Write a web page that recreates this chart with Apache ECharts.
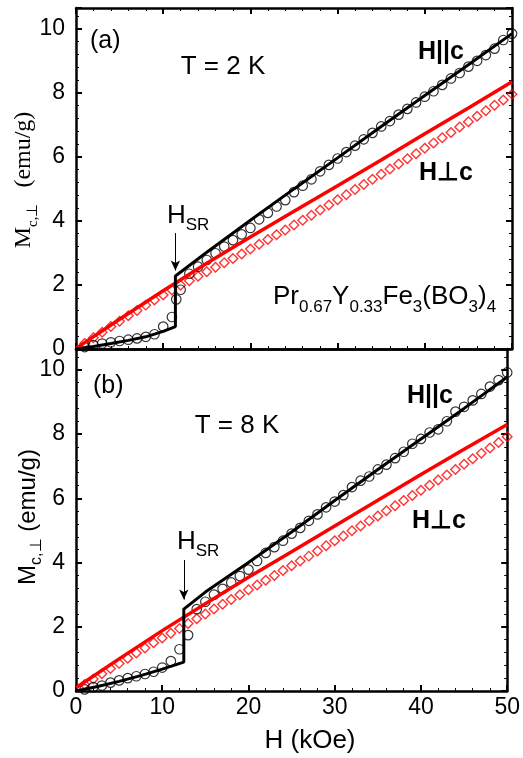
<!DOCTYPE html>
<html>
<head>
<meta charset="utf-8">
<script src="https://cdn.jsdelivr.net/npm/echarts@6/dist/echarts.min.js"></script>
<style>
  html, body { margin: 0; padding: 0; background: #fff; }
  #main { width: 523px; height: 758px; }
</style>
</head>
<body>
<div id="main"></div>
<script>
// ---- data (H in kOe, M in emu/g) ----
// panel (a), T = 2 K
var hParA = [1,2,3,4,5,6,7,8,9,10,11,11.5,12,13,14,15,16,17,18,19,20,21,22,23,24,25,26,27,28,29,30,31,32,33,34,35,36,37,38,39,40,41,42,43,44,45,46,47,48,49,50];
var mParA = [0.06,0.12,0.17,0.21,0.25,0.29,0.33,0.38,0.46,0.70,1.00,1.55,1.85,2.35,2.57,2.78,2.99,3.20,3.40,3.58,3.78,4.05,4.25,4.45,4.65,4.90,5.10,5.30,5.55,5.75,5.95,6.15,6.35,6.55,6.75,6.95,7.12,7.32,7.50,7.70,7.88,8.05,8.25,8.45,8.62,8.82,9.00,9.18,9.38,9.65,9.85];
var hPerpA = [1,2,3,4,5,6,7,8,9,10,11,12,13,14,15,16,17,18,19,20,21,22,23,24,25,26,27,28,29,30,31,32,33,34,35,36,37,38,39,40,41,42,43,44,45,46,47,48,49,50];
var mPerpA = [0.18,0.35,0.52,0.70,0.87,1.04,1.20,1.37,1.53,1.69,1.84,1.99,2.13,2.27,2.41,2.55,2.69,2.83,2.97,3.12,3.27,3.42,3.57,3.72,3.87,4.02,4.18,4.34,4.50,4.66,4.82,4.98,5.14,5.30,5.46,5.62,5.78,5.94,6.10,6.27,6.43,6.60,6.76,6.93,7.10,7.27,7.44,7.61,7.78,7.96];
var fitParHA = [0,2,4,6,8,10,11.4,11.4,15,20,25,30,35,40,45,50];
var fitParMA = [0,0.08,0.17,0.27,0.38,0.55,0.70,2.28,3.02,4.02,5.00,5.97,6.95,7.92,8.88,9.85];
var fitPerpHA = [0,5,10,15,20,25,30,35,40,45,50];
var fitPerpMA = [0.02,0.93,1.82,2.68,3.50,4.30,5.10,5.90,6.72,7.53,8.35];

// panel (b), T = 8 K
var hParB = [1,2,3,4,5,6,7,8,9,10,11,12,13,14,15,16,17,18,19,20,21,22,23,24,25,26,27,28,29,30,31,32,33,34,35,36,37,38,39,40,41,42,43,44,45,46,47,48,49,50];
var mParB = [0.05,0.12,0.17,0.26,0.33,0.40,0.46,0.53,0.60,0.73,0.93,1.30,1.74,2.55,2.78,3.00,3.18,3.38,3.58,3.78,4.05,4.30,4.48,4.68,4.90,5.08,5.30,5.50,5.72,5.90,6.10,6.35,6.55,6.68,6.90,7.05,7.25,7.45,7.70,7.85,8.05,8.15,8.40,8.70,8.85,9.05,9.25,9.48,9.68,9.92];
var hPerpB = [1,2,3,4,5,6,7,8,9,10,11,12,13,14,15,16,17,18,19,20,21,22,23,24,25,26,27,28,29,30,31,32,33,34,35,36,37,38,39,40,41,42,43,44,45,46,47,48,49,50];
var mPerpB = [0.20,0.37,0.54,0.70,0.86,1.02,1.18,1.34,1.50,1.65,1.80,1.95,2.10,2.25,2.40,2.55,2.70,2.85,3.00,3.15,3.30,3.45,3.60,3.75,3.90,4.05,4.20,4.36,4.52,4.68,4.83,4.99,5.14,5.30,5.45,5.61,5.77,5.93,6.09,6.25,6.41,6.57,6.73,6.90,7.06,7.23,7.40,7.57,7.74,7.92];
var fitParHB = [0,2.5,5,7.5,10,12.5,12.5,15,20,25,30,35,40,45,50];
var fitParMB = [0,0.14,0.30,0.48,0.68,0.90,2.55,3.08,4.00,4.95,5.93,6.90,7.85,8.80,9.78];
var fitPerpHB = [0,5,10,15,20,25,30,35,40,45,50];
var fitPerpMB = [0.10,1.00,1.88,2.72,3.54,4.34,5.14,5.94,6.74,7.53,8.30];

// transition field arrows [H, from M, to M]
var arrowA = [11.4, 3.62, 2.45];
var arrowB = [12.5, 4.08, 2.85];

function zip(xs, ys) {
  var out = [];
  for (var i = 0; i < xs.length; i++) out.push([xs[i], ys[i]]);
  return out;
}

var SANS = '"Liberation Sans", Arial, sans-serif';
var SERIF = '"Liberation Serif", "Times New Roman", serif';

var chart = echarts.init(document.getElementById('main'), null, {renderer: 'canvas'});

function xAx(grid, pos, labels, ticks) {
  return {
    type: 'value', gridIndex: grid, position: pos, min: 0, max: 50, interval: 10,
    axisLine: {show: true, onZero: false, lineStyle: {color: '#000', width: 2.5}},
    axisTick: {show: ticks, inside: true, length: 6, lineStyle: {color: '#000', width: 2}},
    minorTick: {show: ticks, splitNumber: 5, length: 3, lineStyle: {color: '#000', width: 1}},
    axisLabel: {show: labels, margin: 5, color: '#000', fontSize: 23, fontFamily: SANS},
    splitLine: {show: false}
  };
}
function yAx(grid, pos, labels) {
  return {
    type: 'value', gridIndex: grid, position: pos, min: 0, max: 10.65, interval: 2,
    axisLine: {show: true, onZero: false, lineStyle: {color: '#000', width: 2.5}},
    axisTick: {show: true, inside: true, length: 6, lineStyle: {color: '#000', width: 2}},
    minorTick: {show: true, splitNumber: 5, length: 3, lineStyle: {color: '#000', width: 1}},
    axisLabel: {show: labels, margin: 11, color: '#000', fontSize: 23, fontFamily: SANS,
      formatter: function (v) { return v % 2 === 0 ? String(v) : ''; }},
    splitLine: {show: false}
  };
}

function circles(xi, xs, ys) {
  return {type: 'scatter', xAxisIndex: xi, yAxisIndex: xi, data: zip(xs, ys),
    symbol: 'circle', symbolSize: 9.5, z: 2,
    itemStyle: {color: 'rgba(0,0,0,0)', borderColor: '#000', borderWidth: 1.2}};
}
function diamonds(xi, xs, ys) {
  return {type: 'scatter', xAxisIndex: xi, yAxisIndex: xi, data: zip(xs, ys),
    symbol: 'diamond', symbolSize: 9.5, z: 2,
    itemStyle: {color: 'rgba(0,0,0,0)', borderColor: '#ff0000', borderWidth: 1.4}};
}
function fit(xi, xs, ys, color, width, arrow) {
  var s = {type: 'line', xAxisIndex: xi, yAxisIndex: xi, data: zip(xs, ys),
    showSymbol: false, z: 3, lineStyle: {color: color, width: width}};
  if (arrow) {
    s.markLine = {
      silent: true, symbol: ['none', 'arrow'], symbolSize: [7, 10],
      label: {show: false},
      lineStyle: {color: '#000', width: 1, type: 'solid'},
      data: [[{coord: [arrow[0], arrow[1]]}, {coord: [arrow[0], arrow[2]]}]]
    };
  }
  return s;
}

// helper for plain / rich text labels
function label(x, y, text, size, opts) {
  opts = opts || {};
  return {
    type: 'text', x: x, y: y, rotation: opts.rot || 0, z: 10,
    style: {
      text: text, fill: '#000',
      font: (opts.bold ? 'bold ' : '') + size + 'px ' + (opts.family || SANS),
      align: opts.align || 'center', verticalAlign: 'middle',
      rich: opts.rich
    }
  };
}
function subRich(main, sub, family, lh, gap) {
  return {
    m: {fontSize: main, fontFamily: family, lineHeight: lh, verticalAlign: 'middle'},
    s: {fontSize: sub, fontFamily: family, verticalAlign: 'bottom'},
    g: {width: gap || 0, fontSize: main, fontFamily: family}
  };
}

var option = {
  animation: false,
  backgroundColor: '#fff',
  grid: [
    {left: 76, top: 8, width: 436, height: 341},
    {left: 76, top: 349, width: 436, height: 342}
  ],
  xAxis: [
    xAx(0, 'bottom', false, true),
    xAx(0, 'top', false, true),
    xAx(1, 'bottom', true, true),
    xAx(1, 'top', false, false)
  ],
  yAxis: [
    yAx(0, 'left', true),
    yAx(0, 'right', false),
    yAx(1, 'left', true),
    yAx(1, 'right', false)
  ],
  series: [
    diamonds(0, hPerpA, mPerpA),
    circles(0, hParA, mParA),
    fit(0, fitPerpHA, fitPerpMA, '#ff0000', 3.5),
    fit(0, fitParHA, fitParMA, '#000', 3, arrowA),
    diamonds(2, hPerpB, mPerpB),
    circles(2, hParB, mParB),
    fit(2, fitPerpHB, fitPerpMB, '#ff0000', 3.5),
    fit(2, fitParHB, fitParMB, '#000', 3, arrowB)
  ],
  graphic: [
    // panel (a)
    label(90, 41, '(a)', 25, {align: 'left'}),
    label(223, 67, 'T = 2 K', 26),
    label(441, 52, 'H||c', 25, {bold: true}),
    label(446, 173, 'H\u22A5c', 25, {bold: true}),
    label(167, 216, '{m|H}{s|SR}', 26, {align: 'left', rich: subRich(26, 17, SANS, 36)}),
    label(273, 297, '{m|Pr}{s|0.67}{m|Y}{s|0.33}{m|Fe}{s|3}{m|(BO}{s|3}{m|)}{s|4}', 26,
      {align: 'left', rich: subRich(26, 17, SANS, 38)}),
    label(24, 180, '{m|M}{s|c,\u22A5}{g|}{m|(emu/g)}', 24,
      {rot: Math.PI / 2, family: SERIF, rich: subRich(24, 15, SERIF, 33, 16)}),
    // panel (b)
    label(93, 386, '(b)', 25, {align: 'left'}),
    label(237, 426, 'T = 8 K', 26),
    label(430, 396, 'H||c', 25, {bold: true}),
    label(439, 521, 'H\u22A5c', 25, {bold: true}),
    label(177, 542, '{m|H}{s|SR}', 26, {align: 'left', rich: subRich(26, 17, SANS, 36)}),
    label(28, 517, '{m|M}{s|c,\u22A5}{m| (emu/g)}', 24,
      {rot: Math.PI / 2, rich: subRich(24, 16, SANS, 34)}),
    // x axis title
    label(310, 741, 'H (kOe)', 26)
  ]
};

chart.setOption(option);
</script>
</body>
</html>
